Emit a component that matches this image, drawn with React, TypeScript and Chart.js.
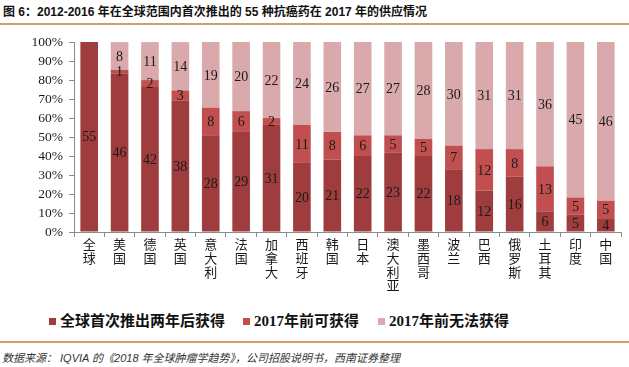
import React, { useEffect, useRef } from "react";
import { Chart, registerables } from "chart.js";

Chart.register(...registerables);

const categories = ["全球", "美国", "德国", "英国", "意大利", "法国", "加拿大", "西班牙", "韩国", "日本", "澳大利亚", "墨西哥", "波兰", "巴西", "俄罗斯", "土耳其", "印度", "中国"];
const afterTwoYears = [55, 46, 42, 38, 28, 29, 31, 20, 21, 22, 23, 22, 18, 12, 16, 6, 5, 4];
const availableBefore2017 = [0, 1, 2, 3, 8, 6, 2, 11, 8, 6, 5, 5, 7, 12, 8, 13, 5, 5];
const notAvailable = [0, 8, 11, 14, 19, 20, 22, 24, 26, 27, 27, 28, 30, 31, 31, 36, 45, 46];
const seriesNames = ["全球首次推出两年后获得", "2017年前可获得", "2017年前无法获得"];
const yTicks = [0, 10, 20, 30, 40, 50, 60, 70, 80, 90, 100];

const COLORS = ["#9F3C3D", "#C24F4F", "#DAA9AC"];
const SERIF = "'Liberation Serif', 'Times New Roman', 'Noto Sans CJK SC', serif";
const CJK = "'Liberation Sans', Arial, 'Noto Sans CJK SC', sans-serif";

const labelPlugin = {
  id: "segLabels",
  afterDatasetsDraw(chart: any) {
    const ctx = chart.ctx;
    ctx.save();
    ctx.font = `14px ${SERIF}`;
    ctx.fillStyle = "#1a1a1a";
    ctx.textAlign = "center";
    ctx.textBaseline = "middle";
    chart.data.datasets.forEach((ds: any, di: number) => {
      const meta = chart.getDatasetMeta(di);
      meta.data.forEach((el: any, i: number) => {
        const raw = ds.raw[i];
        if (!raw) return;
        const { x, y, base } = el.getProps(["x", "y", "base"], true);
        ctx.fillText(String(raw), x, (y + base) / 2 + 1);
      });
    });
    ctx.restore();
  },
};

export default function App() {
  const ref = useRef<HTMLCanvasElement | null>(null);

  useEffect(() => {
    document.body.style.margin = "0";
    const raws = [afterTwoYears, availableBefore2017, notAvailable];
    const totals = categories.map((_, i) => afterTwoYears[i] + availableBefore2017[i] + notAvailable[i]);
    const chart = new Chart(ref.current as HTMLCanvasElement, {
      type: "bar",
      data: {
        labels: categories.map((c) => c.split("")),
        datasets: raws.map((arr, k) => ({
          label: seriesNames[k],
          data: arr.map((v, i) => (v / totals[i]) * 100),
          raw: arr,
          backgroundColor: COLORS[k],
          borderWidth: 0,
          categoryPercentage: 1,
          barPercentage: 0.58,
        })) as any,
      },
      options: {
        animation: false,
        responsive: false,
        layout: { padding: { top: 13, right: 8, left: 0, bottom: 0 } },
        plugins: { legend: { display: false }, tooltip: { enabled: false } },
        scales: {
          x: {
            stacked: true,
            grid: { drawOnChartArea: false, drawTicks: true, tickLength: 5, color: "#8c8c8c", offset: true },
            border: { display: true, color: "#8c8c8c" },
            ticks: {
              autoSkip: false,
              maxRotation: 0,
              padding: 2,
              color: "#1a1a1a",
              font: { family: CJK, size: 13, lineHeight: 1.05 },
            },
            afterFit(scale: any) {
              scale.height = 78;
            },
          },
          y: {
            stacked: true,
            min: 0,
            max: 100,
            afterBuildTicks(scale: any) {
              scale.ticks = yTicks.map((v) => ({ value: v }));
            },
            grid: { drawOnChartArea: false, drawTicks: true, tickLength: 5, color: "#8c8c8c" },
            border: { display: true, color: "#8c8c8c" },
            ticks: {
              autoSkip: false,
              padding: 6,
              color: "#1a1a1a",
              font: { family: SERIF, size: 13.5 },
              callback: (v: any) => v + "%",
            },
            afterFit(scale: any) {
              scale.width = 74;
            },
          },
        },
      },
      plugins: [labelPlugin],
    } as any);
    return () => chart.destroy();
  }, []);

  const legendItem = (name: string, color: string, left: number) => (
    <div key={name} style={{ position: "absolute", left, top: 311, display: "flex", alignItems: "center", whiteSpace: "nowrap" }}>
      <span style={{ display: "inline-block", width: 7, height: 7, background: color, marginRight: 4 }} />
      <span style={{ font: `bold 15px 'Liberation Serif', 'Noto Sans CJK SC', serif`, color: "#111", lineHeight: "20px" }}>{name}</span>
    </div>
  );

  return (
    <div style={{ position: "fixed", left: 0, top: 0, width: 629, height: 367, background: "#fff", overflow: "hidden" }}>
      <div
        style={{
          position: "absolute",
          left: 3,
          top: 4,
          font: `bold 12px 'Liberation Sans', Arial, 'Noto Sans CJK SC', sans-serif`,
          color: "#111",
          whiteSpace: "nowrap",
          lineHeight: "16px",
        }}
      >
        图 6：2012-2016 年在全球范围内首次推出的 55 种抗癌药在 2017 年的供应情况
      </div>
      <div style={{ position: "absolute", left: 0, top: 23, width: 629, height: 2, background: "#C9A266" }} />
      <canvas ref={ref} width={629} height={282} style={{ position: "absolute", left: 0, top: 28, width: 629, height: 282 }} />
      {legendItem(seriesNames[0], COLORS[0], 49)}
      {legendItem(seriesNames[1], COLORS[1], 243)}
      {legendItem(seriesNames[2], COLORS[2], 378)}
      <div style={{ position: "absolute", left: 0, top: 341, width: 629, height: 2, background: "#C9A266" }} />
      <div
        style={{
          position: "absolute",
          left: 2,
          top: 351,
          font: `italic 11px 'Liberation Sans', Arial, 'Noto Sans CJK SC', sans-serif`,
          color: "#333",
          whiteSpace: "nowrap",
          lineHeight: "15px",
        }}
      >
        数据来源： IQVIA 的《2018 年全球肿瘤学趋势》，公司招股说明书，西南证券整理
      </div>
    </div>
  );
}
